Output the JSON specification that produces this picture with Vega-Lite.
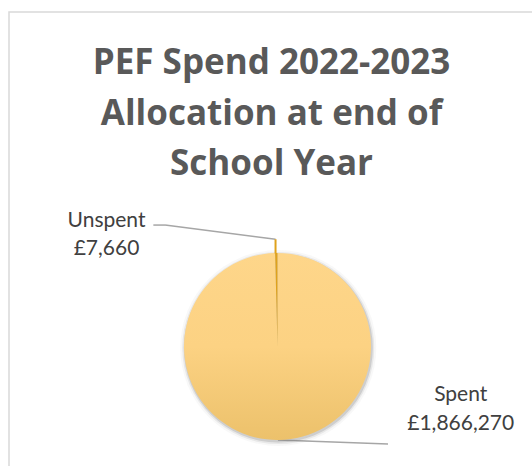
{
  "$schema": "https://vega.github.io/schema/vega-lite/v6.json",
  "width": 527,
  "height": 458,
  "autosize": "none",
  "padding": {"left": 9, "top": 12, "right": -4, "bottom": -4},
  "background": "white",
  "config": {"view": {"stroke": "#d9d9d9", "strokeWidth": 1.5}},
  "datasets": {
    "pef": [
      {"category": "Spent", "amount": 1866270},
      {"category": "Unspent", "amount": 7660}
    ]
  },
  "layer": [
    {
      "data": {"values": [{}]},
      "mark": {"type": "rule", "stroke": "#a6a6a6", "strokeWidth": 1.5},
      "encoding": {
        "x": {"datum": -132.8, "type": "quantitative", "scale": {"domain": [-287.2, 276.5], "nice": false, "zero": false}, "axis": null},
        "x2": {"datum": -120.3},
        "y": {"datum": 129.9, "type": "quantitative", "scale": {"domain": [-132.1, 357.8], "nice": false, "zero": false}, "axis": null},
        "y2": {"datum": 129.9}
      }
    },
    {
      "data": {"values": [{}]},
      "mark": {"type": "rule", "stroke": "#a6a6a6", "strokeWidth": 1.5},
      "encoding": {
        "x": {"datum": -120.3, "type": "quantitative", "scale": {"domain": [-287.2, 276.5], "nice": false, "zero": false}, "axis": null},
        "x2": {"datum": -2.1},
        "y": {"datum": 129.9, "type": "quantitative", "scale": {"domain": [-132.1, 357.8], "nice": false, "zero": false}, "axis": null},
        "y2": {"datum": 114.7}
      }
    },
    {
      "data": {"values": [{}]},
      "mark": {"type": "rule", "stroke": "#a6a6a6", "strokeWidth": 1.5},
      "encoding": {
        "x": {"datum": 0.5, "type": "quantitative", "scale": {"domain": [-287.2, 276.5], "nice": false, "zero": false}, "axis": null},
        "x2": {"datum": 118.2},
        "y": {"datum": -100, "type": "quantitative", "scale": {"domain": [-132.1, 357.8], "nice": false, "zero": false}, "axis": null},
        "y2": {"datum": -104.3}
      }
    },
    {
      "data": {"values": [{}]},
      "mark": {"type": "arc", "theta": 0, "theta2": 6.2832, "outerRadius": 98, "fill": "#7f7f7f", "opacity": 0.05},
      "encoding": {
        "x": {"datum": 0.8, "type": "quantitative", "scale": {"domain": [-287.2, 276.5], "nice": false, "zero": false}, "axis": null},
        "y": {"datum": -1.6, "type": "quantitative", "scale": {"domain": [-132.1, 357.8], "nice": false, "zero": false}, "axis": null}
      }
    },
    {
      "data": {"values": [{}]},
      "mark": {"type": "arc", "theta": 0, "theta2": 6.2832, "outerRadius": 96, "fill": "#7f7f7f", "opacity": 0.12},
      "encoding": {
        "x": {"datum": 0.8, "type": "quantitative", "scale": {"domain": [-287.2, 276.5], "nice": false, "zero": false}, "axis": null},
        "y": {"datum": -1.6, "type": "quantitative", "scale": {"domain": [-132.1, 357.8], "nice": false, "zero": false}, "axis": null}
      }
    },
    {
      "data": {"values": [{}]},
      "mark": {"type": "arc", "theta": 0, "theta2": 6.2832, "outerRadius": 94.5, "fill": "#7f7f7f", "opacity": 0.25},
      "encoding": {
        "x": {"datum": 0.8, "type": "quantitative", "scale": {"domain": [-287.2, 276.5], "nice": false, "zero": false}, "axis": null},
        "y": {"datum": -1.6, "type": "quantitative", "scale": {"domain": [-132.1, 357.8], "nice": false, "zero": false}, "axis": null}
      }
    },
    {
      "data": {"name": "pef"},
      "mark": {"type": "arc", "outerRadius": 93.5},
      "encoding": {
        "theta": {"field": "amount", "type": "quantitative", "stack": true},
        "x": {"datum": 0, "type": "quantitative", "scale": {"domain": [-287.2, 276.5], "nice": false, "zero": false}, "axis": null},
        "y": {"datum": 0, "type": "quantitative", "scale": {"domain": [-132.1, 357.8], "nice": false, "zero": false}, "axis": null},
        "fill": {
          "condition": {"test": "datum.category === 'Unspent'", "value": "#DFA21C"},
          "value": {"gradient": "linear", "x1": 0, "y1": 0, "x2": 0, "y2": 1, "stops": [{"offset": 0, "color": "#FED68A"}, {"offset": 0.5, "color": "#FCD283"}, {"offset": 1, "color": "#ECC16B"}]}
        }
      }
    },
    {
      "data": {"values": [{}]},
      "mark": {"type": "rule", "stroke": "#DFA21C", "strokeWidth": 2},
      "encoding": {
        "x": {"datum": -2.1, "type": "quantitative", "scale": {"domain": [-287.2, 276.5], "nice": false, "zero": false}, "axis": null},
        "x2": {"datum": -2.1},
        "y": {"datum": 114.7, "type": "quantitative", "scale": {"domain": [-132.1, 357.8], "nice": false, "zero": false}, "axis": null},
        "y2": {"datum": 99.5}
      }
    },
    {
      "data": {"values": [{}]},
      "mark": {"type": "text", "text": ["PEF Spend 2022-2023", "Allocation at end of", "School Year"], "font": "Open Sans", "fontWeight": "bold", "fontSize": 35, "fill": "#595959", "align": "center", "baseline": "alphabetic", "lineHeight": 50.5},
      "encoding": {
        "x": {"datum": -6.4, "type": "quantitative", "scale": {"domain": [-287.2, 276.5], "nice": false, "zero": false}, "axis": null},
        "y": {"datum": 291.4, "type": "quantitative", "scale": {"domain": [-132.1, 357.8], "nice": false, "zero": false}, "axis": null}
      }
    },
    {
      "data": {"name": "pef"},
      "transform": [
        {"filter": "datum.category === 'Unspent'"},
        {"calculate": "[datum.category, '£' + format(datum.amount, ',')]", "as": "label"}
      ],
      "mark": {"type": "text", "font": "Lato", "fontSize": 21, "fill": "#404040", "align": "center", "baseline": "alphabetic", "lineHeight": 28.3},
      "encoding": {
        "text": {"field": "label"},
        "x": {"datum": -182.9, "type": "quantitative", "scale": {"domain": [-287.2, 276.5], "nice": false, "zero": false}, "axis": null},
        "y": {"datum": 128.1, "type": "quantitative", "scale": {"domain": [-132.1, 357.8], "nice": false, "zero": false}, "axis": null}
      }
    },
    {
      "data": {"name": "pef"},
      "transform": [
        {"filter": "datum.category === 'Spent'"},
        {"calculate": "[datum.category, '£' + format(datum.amount, ',')]", "as": "label"}
      ],
      "mark": {"type": "text", "font": "Lato", "fontSize": 21, "fill": "#404040", "align": "center", "baseline": "alphabetic", "lineHeight": 29.3},
      "encoding": {
        "text": {"field": "label"},
        "x": {"datum": 196.0, "type": "quantitative", "scale": {"domain": [-287.2, 276.5], "nice": false, "zero": false}, "axis": null},
        "y": {"datum": -58.0, "type": "quantitative", "scale": {"domain": [-132.1, 357.8], "nice": false, "zero": false}, "axis": null}
      }
    }
  ]
}
